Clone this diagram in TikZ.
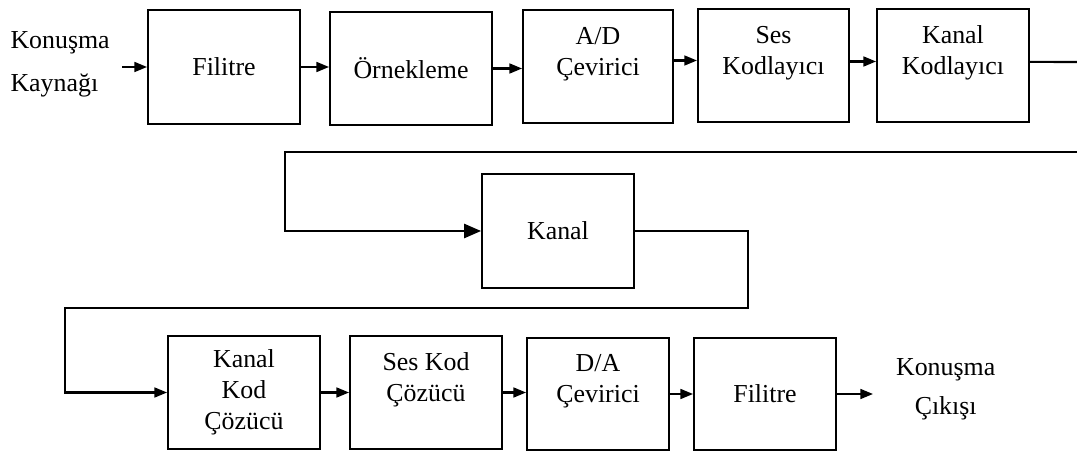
\documentclass[tikz,border=0pt]{standalone}
\usepackage{fontspec}
\setmainfont{Liberation Serif}
\usetikzlibrary{arrows.meta}

\tikzset{
  blok/.style={draw, line width=1.3pt, minimum width=3.8cm, minimum height=2.83cm,
    align=center, inner sep=0pt, font=\fontsize{18.4}{22}\selectfont},
  metin/.style={inner ysep=0pt, font=\fontsize{18.4}{22}\selectfont},
  ok/.style={line width=1.5pt, -{Triangle[length=9pt,width=7pt]}},
  hat/.style={line width=1.5pt}
}

\begin{document}
\begin{tikzpicture}[x=0.025cm, y=-0.025cm]
\useasboundingbox (0,0) rectangle (1077,451);

% Top row
\node[metin, align=left, anchor=east, inner xsep=0.3cm,
  font=\fontsize{18.4}{30.5}\selectfont] (kaynak) at (122,64.5) {Konuşma\\Kaynağı};
\node[blok] (filitre1) at (224,67) {Filitre};
\node[blok, minimum width=4.05cm] (ornekleme) at (411,68.5) {Örnekleme};
\node[blok, minimum width=3.75cm] (ad) at (598,66.5) {A/D\\Çevirici\\~};
\node[blok, minimum width=3.78cm] (ses) at (773.5,65.5) {Ses\\Kodlayıcı\\~};
\node[blok] (kanalkod) at (953,65.5) {Kanal\\Kodlayıcı\\~};

% Channel
\node[blok, minimum height=2.85cm] (kanal) at (558,231) {Kanal};

% Bottom row
\node[blok] (kanalcoz) at (244,392.5) {Kanal\\Kod\\Çözücü};
\node[blok] (sescoz) at (426,392.5) {Ses Kod\\Çözücü\\~};
\node[blok, minimum width=3.55cm, minimum height=2.8cm] (da) at (598,394) {D/A\\Çevirici\\~};
\node[blok, minimum width=3.55cm, minimum height=2.8cm] (filitre2) at (765,394) {Filitre};
\node[metin, align=center, anchor=west, inner xsep=0.57cm,
  font=\fontsize{18.4}{27.6}\selectfont] (cikis) at (873,389) {Konuşma\\Çıkışı};

% Turning points
\coordinate (sag0) at (1077,62);
\coordinate (sag1) at (1077,152);
\coordinate (sol1) at (285,152);
\coordinate (sag2) at (748,308);
\coordinate (sol2) at (65,308);

% Arrows
\draw[ok] (kaynak.east |- filitre1.west) -- (filitre1.west);
\draw[ok] (filitre1.east) -- (filitre1.east -| ornekleme.west);
\draw[ok] (ornekleme.east) -- (ornekleme.east -| ad.west);
\draw[ok] ([yshift=0.15cm]ad.east) -- ([yshift=0.15cm]ad.east -| ses.west);
\draw[ok] ([yshift=0.1cm]ses.east) -- ([yshift=0.1cm]ses.east -| kanalkod.west);
\draw[hat] ([yshift=0.09cm]kanalkod.east) -- (sag0);
\draw[hat, -{Triangle[length=12pt,width=10pt]}] (sag1) -- (sol1) |- (kanal.west);
\draw[ok] (kanal.east) -| (sag2) -- (sol2) |- (kanalcoz.west);
\draw[ok] (kanalcoz.east) -- (kanalcoz.east -| sescoz.west);
\draw[ok] (sescoz.east) -- (sescoz.east -| da.west);
\draw[ok] (da.east) -- (da.east -| filitre2.west);
\draw[ok] (filitre2.east) -- (cikis.west |- filitre2.east);

\end{tikzpicture}
\end{document}
